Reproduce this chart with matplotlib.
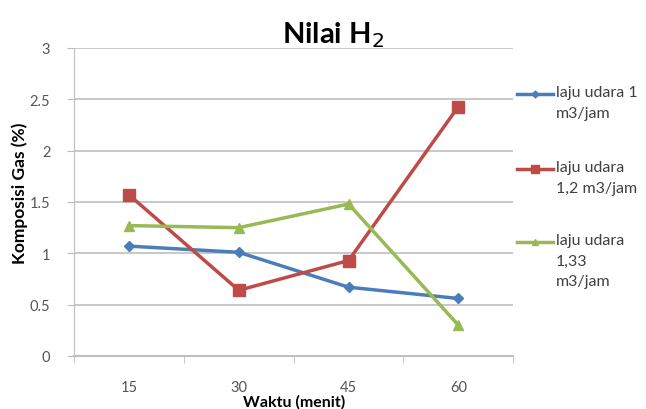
import matplotlib
matplotlib.use("Agg")
import matplotlib.pyplot as plt
from matplotlib.lines import Line2D
import numpy as np

plt.rcParams['font.family'] = ['Lato', 'DejaVu Sans']

# data: komposisi gas H2 per waktu
waktu = ["15", "30", "45", "60"]
laju_1 = [1.07, 1.01, 0.67, 0.56]
laju_12 = [1.57, 0.64, 0.93, 2.43]
laju_133 = [1.27, 1.25, 1.48, 0.30]
labels = ["laju udara 1\nm3/jam", "laju udara\n1,2 m3/jam", "laju udara\n1,33\nm3/jam"]
yticks = [0, 0.5, 1, 1.5, 2, 2.5, 3]

W, H = 646, 410
fig = plt.figure(figsize=(W / 100, H / 100), dpi=100)
ax = fig.add_axes([0.1146, 0.1293, 0.680, 0.7512])

x = np.arange(len(waktu))
gaya = [('D', '#4A7EBB', 5), ('s', '#BE4B48', 8), ('^', '#98B954', 7)]
for vals, (mk, col, ms) in zip([laju_1, laju_12, laju_133], gaya):
    ax.plot(x, vals, '-', marker=mk, color=col, lw=2.5, ms=ms)

ax.set_xlim(-0.5, len(waktu) - 0.5)
ax.set_ylim(0, 3)
ax.set_yticks(yticks)
ax.set_yticklabels([str(v) for v in yticks])
ax.set_xticks(x)
ax.set_xticklabels(waktu)
ax.set_xticks(np.arange(-0.5, len(waktu)), minor=True)
ax.tick_params(axis='x', which='major', length=0, pad=17, labelsize=10.5, colors='#555555')
ax.tick_params(axis='x', which='minor', length=5, direction='out', color='#BBBBBB')
ax.tick_params(axis='y', length=5, color='#BBBBBB', pad=12, labelsize=10.5, colors='#555555')

ax.grid(axis='y', color='#BFBFBF', lw=1.2)
ax.set_axisbelow(True)
for s in ['top', 'right']:
    ax.spines[s].set_visible(False)
ax.spines['left'].set_color('#BFBFBF')
ax.spines['bottom'].set_color('#BFBFBF')
ax.spines['bottom'].set_linewidth(1.5)

fig.text(333 / W, 1 - 43 / H, "Nilai H$_2$", fontsize=21, fontweight='bold',
         ha='center', va='baseline')
ax.set_ylabel("Komposisi Gas (%)", fontsize=12.5, fontweight='bold')
ax.yaxis.set_label_coords(-0.105, 0.532)
ax.set_xlabel("Waktu (menit)", fontsize=11.5, fontweight='bold', va='bottom')
ax.xaxis.set_label_coords(0.5, -0.172)

# legenda: garis pendek + teks, baris pertama sejajar dengan garis
leg_y = [95, 170, 243]
for yy, lab, (mk, col, ms) in zip(leg_y, labels, gaya):
    fy = 1 - yy / H
    fig.add_artist(Line2D([517 / W, 553 / W], [fy, fy], color=col, lw=2.5,
                          transform=fig.transFigure))
    fig.add_artist(Line2D([535 / W], [fy], marker=mk, color=col, ms=ms * 0.7,
                          transform=fig.transFigure))
    fig.text(556 / W, 1 - (yy - 9) / H, lab, fontsize=11.5, color='#404040',
             ha='left', va='top', linespacing=1.6)

fig.savefig("out.png", dpi=100)
